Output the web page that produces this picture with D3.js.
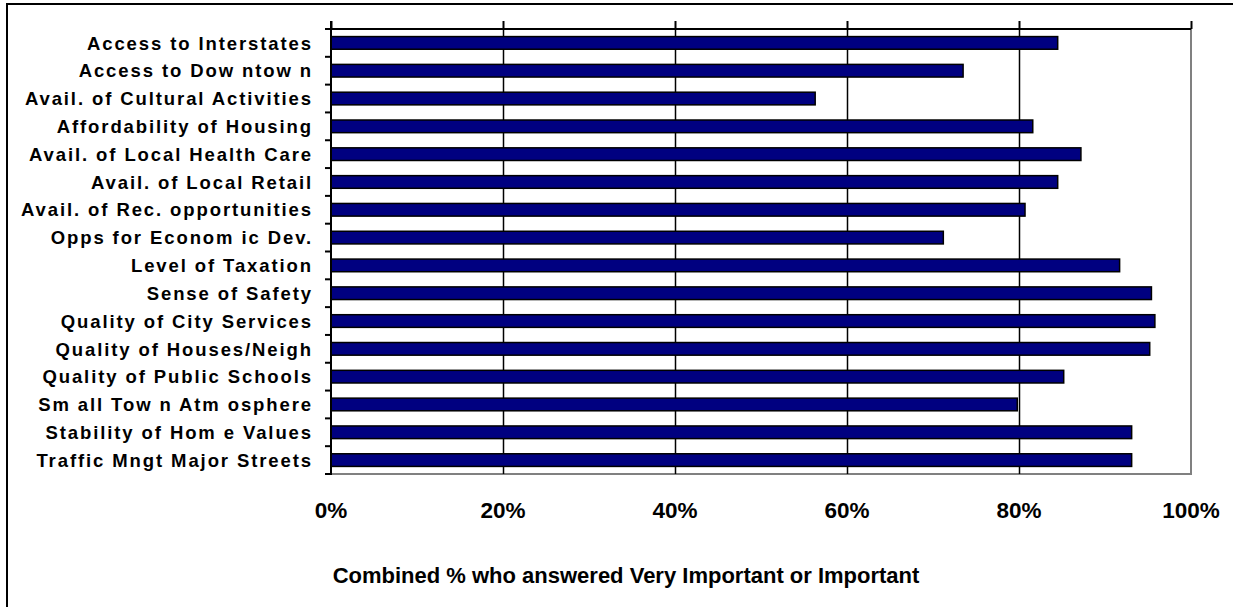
<!DOCTYPE html>
<html>
<head>
<meta charset="utf-8">
<script src="https://cdn.jsdelivr.net/npm/d3@7"></script>
<style>
  html, body { margin: 0; padding: 0; background: #fff; }
  svg { display: block; }
  text { font-family: "Liberation Sans", Arial, sans-serif; font-weight: bold; fill: #000; }
</style>
</head>
<body>
<svg id="chart" width="1233" height="607"></svg>
<script>
const categories = [
  "Access to Interstates",
  "Access to Dow ntow n",
  "Avail. of Cultural Activities",
  "Affordability of Housing",
  "Avail. of Local Health Care",
  "Avail. of Local Retail",
  "Avail. of Rec. opportunities",
  "Opps for Econom ic Dev.",
  "Level of Taxation",
  "Sense of Safety",
  "Quality of City Services",
  "Quality of Houses/Neigh",
  "Quality of Public Schools",
  "Sm all Tow n Atm osphere",
  "Stability of Hom e Values",
  "Traffic Mngt Major Streets"
];
const importantShare = [
  0.845, 0.735, 0.563, 0.816, 0.872, 0.845, 0.807, 0.712,
  0.917, 0.954, 0.958, 0.952, 0.852, 0.798, 0.931, 0.931
];
const tickValues = [0, 0.2, 0.4, 0.6, 0.8, 1.0];
const axisTitle = "Combined % who answered Very Important or Important";

const svg = d3.select("#chart");
const plot = { left: 331, right: 1191, top: 29, bottom: 474 };

const x = d3.scaleLinear().domain([0, 1]).range([plot.left, plot.right]);
const y = d3.scaleBand().domain(categories)
  .range([plot.top, plot.bottom])
  .paddingInner(0.545).paddingOuter(0.2725);

// outer chart frame
svg.append("rect")
  .attr("x", 7).attr("y", 4).attr("width", 1240).attr("height", 620)
  .attr("fill", "none").attr("stroke", "#000").attr("stroke-width", 2);

// plot border (right and bottom, grey)
svg.append("path")
  .attr("d", `M${plot.right},${plot.top}V${plot.bottom}H${plot.left}`)
  .attr("fill", "none").attr("stroke", "#808080").attr("stroke-width", 2);

// gridlines
svg.append("g").selectAll("line")
  .data(tickValues.filter(d => d > 0 && d < 1))
  .join("line")
  .attr("x1", d => Math.round(x(d)) + 0.5).attr("x2", d => Math.round(x(d)) + 0.5)
  .attr("y1", plot.top).attr("y2", plot.bottom)
  .attr("stroke", "#000").attr("stroke-width", 1.5);

// bars
svg.append("g").selectAll("rect")
  .data(categories.map((c, i) => ({ c, v: importantShare[i] })))
  .join("rect")
  .attr("x", plot.left)
  .attr("y", d => y(d.c))
  .attr("width", d => x(d.v) - plot.left)
  .attr("height", y.bandwidth())
  .attr("fill", "#000080")
  .attr("stroke", "#000")
  .attr("stroke-width", 1.5);

// value axis along the top (ticks point upward), labels drawn below the plot
const topAxis = d3.axisTop(x).tickValues(tickValues).tickSize(8).tickFormat("");
const gTop = svg.append("g").attr("transform", `translate(0,${plot.top})`).call(topAxis);
gTop.select(".domain").attr("stroke", "#000").attr("stroke-width", 2).attr("d", `M${plot.left},0H${plot.right}`);
gTop.selectAll(".tick line").attr("stroke", "#000").attr("stroke-width", 2);

svg.append("g").selectAll("text")
  .data(tickValues)
  .join("text")
  .attr("x", d => x(d))
  .attr("y", 518)
  .attr("text-anchor", "middle")
  .style("font-size", "22.5px")
  .text(d3.format(".0%"));

// category axis on the left with boundary ticks
const gLeft = svg.append("g");
gLeft.append("line")
  .attr("x1", plot.left).attr("x2", plot.left)
  .attr("y1", plot.top - 8).attr("y2", plot.bottom + 1)
  .attr("stroke", "#000").attr("stroke-width", 2);
const step = y.step();
gLeft.selectAll("line.tick")
  .data(d3.range(categories.length + 1))
  .join("line")
  .attr("class", "tick")
  .attr("x1", plot.left - 6).attr("x2", plot.left)
  .attr("y1", i => plot.top + i * step).attr("y2", i => plot.top + i * step)
  .attr("stroke", "#000").attr("stroke-width", 2);

gLeft.selectAll("text")
  .data(categories)
  .join("text")
  .attr("x", 313)
  .attr("y", d => y(d) + y.bandwidth() / 2)
  .attr("dy", "0.36em")
  .attr("text-anchor", "end")
  .style("font-size", "18.5px")
  .style("letter-spacing", "1.9px")
  .text(d => d);

// axis title
svg.append("text")
  .attr("x", 626)
  .attr("y", 583)
  .attr("text-anchor", "middle")
  .style("font-size", "22px")
  .text(axisTitle);
</script>
</body>
</html>
